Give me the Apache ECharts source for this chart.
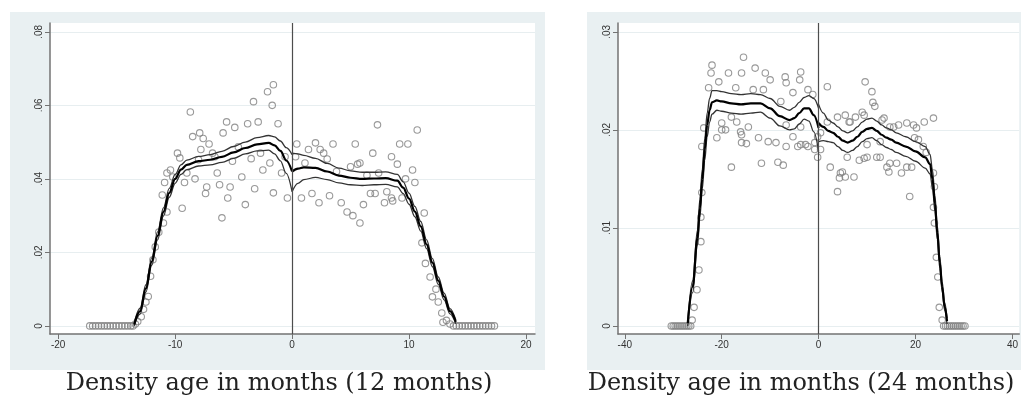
<!DOCTYPE html>
<html>
<head>
<meta charset="utf-8">
<script src="https://cdn.jsdelivr.net/npm/echarts@6/dist/echarts.min.js"></script>
<style>
  body { margin: 0; background: #fff; }
  .region { position: absolute; top: 12px; height: 358px; background: #e9f0f2; }
  #chart { position: absolute; left: 0; top: 0; width: 1021px; height: 404px; }
</style>
</head>
<body>
<div class="region" style="left:10px;width:535px"></div>
<div class="region" style="left:587px;width:440px"></div>
<div id="chart"></div>
<script>
  // ---- 12 months panel ----
  var xTicks12 = [-20, -10, 0, 10, 20];
  var yTicks12 = [0, 0.02, 0.04, 0.06, 0.08];
  var zeros12 = [-17.3, -17.05, -16.8, -16.55, -16.3, -16.05, -15.8, -15.55, -15.3, -15.05, -14.8, -14.55, -14.3, -14.05, -13.8, -13.6,
    13.8, 14.05, 14.3, 14.55, 14.8, 15.05, 15.3, 15.55, 15.8, 16.05, 16.3, 16.55, 16.8, 17.05, 17.3];
  var bins12 = [
    [-13.4, 0.0005], [-13.2, 0.0012], [-12.9, 0.0025], [-12.7, 0.0045], [-12.5, 0.0065], [-12.3, 0.0080],
    [-12.1, 0.0135], [-11.9, 0.0180], [-11.7, 0.0215], [-11.4, 0.0255], [-11.0, 0.0280], [-10.7, 0.0310],
    [-11.1, 0.0356], [-10.9, 0.0390], [-10.7, 0.0416], [-10.4, 0.0424], [-10.2, 0.0405], [-9.8, 0.0470],
    [-9.6, 0.0457], [-9.4, 0.0320], [-9.2, 0.0390], [-9.0, 0.0416], [-8.7, 0.0582], [-8.5, 0.0515],
    [-8.3, 0.0400], [-8.0, 0.0452], [-7.9, 0.0525], [-7.8, 0.0480], [-7.6, 0.0510], [-7.4, 0.0360],
    [-7.3, 0.0378], [-7.1, 0.0495], [-6.8, 0.0470], [-6.6, 0.0460], [-6.4, 0.0416], [-6.2, 0.0384],
    [-6.0, 0.0294], [-5.9, 0.0525], [-5.6, 0.0555], [-5.5, 0.0348], [-5.3, 0.0378], [-5.1, 0.0448],
    [-4.9, 0.0540], [-4.6, 0.0487], [-4.3, 0.0405], [-4.0, 0.0330], [-3.8, 0.0550], [-3.5, 0.0455],
    [-3.3, 0.0610], [-3.2, 0.0373], [-2.9, 0.0555], [-2.7, 0.0470], [-2.5, 0.0424], [-2.1, 0.0637],
    [-1.9, 0.0443], [-1.7, 0.0600], [-1.6, 0.0656], [-1.6, 0.0362], [-1.2, 0.0550], [-0.9, 0.0416],
    [-0.6, 0.0460], [-0.4, 0.0348],
    [0.3, 0.0460], [0.4, 0.0495], [0.8, 0.0348], [1.1, 0.0443], [1.4, 0.0480], [1.7, 0.0360],
    [2.0, 0.0498], [2.3, 0.0335], [2.4, 0.0480], [2.7, 0.0470], [3.0, 0.0454], [3.2, 0.0354],
    [3.5, 0.0495], [3.8, 0.0420], [4.2, 0.0335], [4.7, 0.0310], [5.0, 0.0433], [5.2, 0.0300],
    [5.4, 0.0495], [5.6, 0.0440], [5.8, 0.0443], [5.8, 0.0280], [6.1, 0.0330], [6.4, 0.0410],
    [6.7, 0.0360], [6.9, 0.0470], [7.1, 0.0360], [7.3, 0.0547], [7.4, 0.0416], [7.9, 0.0335],
    [8.1, 0.0365], [8.5, 0.0460], [8.5, 0.0348], [8.6, 0.0340], [9.0, 0.0440], [9.2, 0.0495],
    [9.4, 0.0348], [9.7, 0.0400], [9.9, 0.0495], [10.3, 0.0424], [10.5, 0.0390], [10.7, 0.0533],
    [11.1, 0.0226], [11.3, 0.0307], [11.4, 0.0170], [11.8, 0.0133], [12.0, 0.0079], [12.3, 0.0100],
    [12.5, 0.0065], [12.8, 0.0035], [12.9, 0.0010], [13.2, 0.0015], [13.5, 0.0005]
  ];
  // rows: [x, lower, fit, upper]
  var fitLeft12 = [
    [-13.5, 0.0000, 0.0004, 0.0008], [-13, 0.0032, 0.0040, 0.0048], [-12.5, 0.0092, 0.0102, 0.0112],
    [-12, 0.0165, 0.0175, 0.0185], [-11.5, 0.0234, 0.0245, 0.0256], [-11, 0.0299, 0.0310, 0.0321],
    [-10.5, 0.0350, 0.0362, 0.0374], [-10, 0.0388, 0.0400, 0.0412], [-9.5, 0.0412, 0.0425, 0.0438],
    [-9, 0.0425, 0.0438, 0.0451], [-8, 0.0435, 0.0448, 0.0461], [-7, 0.0438, 0.0452, 0.0466],
    [-6, 0.0445, 0.0460, 0.0475], [-5, 0.0456, 0.0472, 0.0488], [-4, 0.0468, 0.0484, 0.0500],
    [-3, 0.0476, 0.0494, 0.0512], [-2, 0.0478, 0.0498, 0.0518], [-1.5, 0.0468, 0.0491, 0.0514],
    [-1, 0.0449, 0.0476, 0.0503], [-0.5, 0.0415, 0.0450, 0.0485], [0, 0.0365, 0.0420, 0.0466]
  ];
  var fitRight12 = [
    [0, 0.0365, 0.0420, 0.0470], [0.5, 0.0388, 0.0428, 0.0468], [1, 0.0398, 0.0431, 0.0464],
    [2, 0.0404, 0.0430, 0.0456], [3, 0.0398, 0.0420, 0.0442], [4, 0.0389, 0.0409, 0.0429],
    [5, 0.0384, 0.0403, 0.0422], [6, 0.0382, 0.0400, 0.0418], [7, 0.0384, 0.0401, 0.0418],
    [8, 0.0385, 0.0402, 0.0419], [9, 0.0378, 0.0395, 0.0412], [9.5, 0.0360, 0.0376, 0.0392],
    [10, 0.0331, 0.0346, 0.0361], [10.5, 0.0297, 0.0311, 0.0325], [11, 0.0258, 0.0271, 0.0284],
    [11.5, 0.0210, 0.0222, 0.0234], [12, 0.0161, 0.0172, 0.0183], [12.5, 0.0113, 0.0123, 0.0133],
    [13, 0.0071, 0.0080, 0.0089], [13.5, 0.0033, 0.0040, 0.0047], [14, 0.0006, 0.0011, 0.0016]
  ];

  // ---- 24 months panel ----
  var xTicks24 = [-40, -20, 0, 20, 40];
  var yTicks24 = [0, 0.01, 0.02, 0.03];
  var zeros24 = [-30.4, -30, -29.6, -29.2, -28.8, -28.4, -28, -27.6, -27.2, -26.8, -26.4,
    25.8, 26.2, 26.6, 27, 27.4, 27.8, 28.2, 28.6, 29, 29.4, 29.8, 30.2];
  var bins24 = [
    [-26.1, 0.0006], [-25.7, 0.0019], [-25.1, 0.0037], [-24.7, 0.0057], [-24.3, 0.0086], [-24.3, 0.0111],
    [-24.1, 0.0136], [-24.1, 0.0183], [-23.7, 0.0202],
    [-22.7, 0.0243], [-22.2, 0.0258], [-22.0, 0.0266], [-21.0, 0.0192], [-20.6, 0.0249], [-20.0, 0.0207],
    [-20.0, 0.0200], [-19.2, 0.0200], [-18.6, 0.0258], [-18.0, 0.0213], [-18.0, 0.0162], [-17.1, 0.0243],
    [-16.9, 0.0208], [-16.1, 0.0198], [-15.9, 0.0258], [-15.9, 0.0195], [-15.9, 0.0187], [-15.5, 0.0274],
    [-14.9, 0.0186], [-14.5, 0.0203], [-13.5, 0.0241], [-13.1, 0.0263], [-12.4, 0.0192], [-11.8, 0.0166],
    [-11.4, 0.0241], [-11.0, 0.0258], [-10.4, 0.0188], [-10.0, 0.0251], [-8.8, 0.0187], [-8.4, 0.0167],
    [-7.8, 0.0229], [-7.3, 0.0164], [-6.9, 0.0254], [-6.7, 0.0248], [-6.7, 0.0205], [-6.7, 0.0183],
    [-5.3, 0.0238], [-5.3, 0.0193], [-4.3, 0.0183], [-3.9, 0.0251], [-3.7, 0.0259], [-3.7, 0.0203],
    [-3.7, 0.0185], [-2.7, 0.0185], [-2.2, 0.0241], [-2.2, 0.0183], [-1.2, 0.0236], [-0.8, 0.0180],
    [-0.8, 0.0187], [-0.2, 0.0193], [-0.2, 0.0172],
    [0.4, 0.0197], [0.4, 0.0180], [1.8, 0.0244], [1.8, 0.0208], [2.4, 0.0162], [3.9, 0.0213],
    [3.9, 0.0137], [4.3, 0.0151], [4.5, 0.0156], [4.9, 0.0157], [5.5, 0.0215], [5.5, 0.0152],
    [5.9, 0.0172], [6.3, 0.0208], [6.5, 0.0208], [7.3, 0.0152], [7.6, 0.0213], [8.4, 0.0169],
    [9.0, 0.0218], [9.4, 0.0215], [9.4, 0.0171], [9.6, 0.0249], [10.0, 0.0172], [10.0, 0.0185],
    [11.0, 0.0239], [11.2, 0.0228], [11.6, 0.0224], [12.0, 0.0172], [12.7, 0.0172], [12.7, 0.0188],
    [13.1, 0.0210], [13.5, 0.0212], [14.1, 0.0162], [14.5, 0.0157], [14.7, 0.0203], [14.7, 0.0166],
    [15.5, 0.0203], [16.1, 0.0166], [16.5, 0.0205], [17.1, 0.0156], [18.2, 0.0207], [18.2, 0.0162],
    [18.8, 0.0132], [19.2, 0.0162], [19.6, 0.0205], [19.8, 0.0192], [20.2, 0.0202], [20.6, 0.0190],
    [21.6, 0.0183], [21.8, 0.0208], [22.2, 0.0177], [23.7, 0.0212], [23.7, 0.0156], [23.9, 0.0142],
    [23.7, 0.0121], [23.9, 0.0105], [24.3, 0.0070], [24.6, 0.0050], [24.9, 0.0019], [25.5, 0.0006]
  ];
  var fitLeft24 = [
    [-27, 0.0000, 0.0003, 0.0006], [-26, 0.0034, 0.0040, 0.0046], [-25, 0.0082, 0.0090, 0.0098],
    [-24.5, 0.0111, 0.0120, 0.0129], [-24, 0.0140, 0.0150, 0.0160], [-23.5, 0.0169, 0.0180, 0.0191],
    [-23, 0.0193, 0.0205, 0.0217], [-22.5, 0.0208, 0.0220, 0.0232], [-22, 0.0216, 0.0228, 0.0240],
    [-21, 0.0220, 0.0230, 0.0240], [-20, 0.0219, 0.0229, 0.0239], [-18, 0.0217, 0.0227, 0.0237],
    [-16, 0.0216, 0.0226, 0.0236], [-14, 0.0217, 0.0227, 0.0237], [-12, 0.0218, 0.0227, 0.0236],
    [-10, 0.0212, 0.0222, 0.0232], [-8, 0.0204, 0.0214, 0.0224], [-6, 0.0200, 0.0210, 0.0220],
    [-5, 0.0201, 0.0212, 0.0223], [-4, 0.0206, 0.0217, 0.0228], [-3, 0.0211, 0.0222, 0.0233],
    [-2, 0.0209, 0.0222, 0.0235], [-1, 0.0198, 0.0215, 0.0232], [0, 0.0178, 0.0202, 0.0222]
  ];
  var fitRight24 = [
    [0, 0.0188, 0.0207, 0.0226], [1, 0.0189, 0.0203, 0.0217], [2, 0.0188, 0.0199, 0.0210],
    [3, 0.0187, 0.0197, 0.0207], [4, 0.0183, 0.0193, 0.0203], [5, 0.0179, 0.0189, 0.0199],
    [6, 0.0177, 0.0187, 0.0197], [7, 0.0179, 0.0189, 0.0199], [8, 0.0183, 0.0193, 0.0203],
    [9, 0.0188, 0.0198, 0.0208], [10, 0.0191, 0.0201, 0.0211], [11, 0.0192, 0.0202, 0.0212],
    [12, 0.0189, 0.0199, 0.0209], [13, 0.0185, 0.0195, 0.0205], [14, 0.0182, 0.0192, 0.0202],
    [15, 0.0180, 0.0190, 0.0200], [16, 0.0177, 0.0187, 0.0197], [18, 0.0173, 0.0183, 0.0193],
    [20, 0.0168, 0.0178, 0.0188], [22, 0.0161, 0.0172, 0.0183], [23, 0.0155, 0.0165, 0.0175],
    [23.5, 0.0141, 0.0150, 0.0159], [24, 0.0117, 0.0125, 0.0133], [24.5, 0.0088, 0.0095, 0.0102],
    [25, 0.0059, 0.0065, 0.0071], [25.5, 0.0035, 0.0040, 0.0045], [26, 0.0016, 0.0020, 0.0024],
    [26.5, 0.0002, 0.0005, 0.0008]
  ];

  var axisColor = '#737373';
  var labelStyle = {color: '#333', fontSize: 10, fontFamily: 'Liberation Sans'};
  var titleStyle = {fontFamily: 'DejaVu Serif', fontWeight: 'normal', fontSize: 24, color: '#222'};

  function stataNum(v) {
    return v === 0 ? '0' : String(v).replace(/^0\./, '.').replace(/^-0\./, '-.');
  }

  function xAxisFor(idx, min, max, ticks) {
    return {
      gridIndex: idx, type: 'value', min: min, max: max,
      axisLine: {show: true, onZero: false, lineStyle: {color: axisColor, width: 1.5}},
      axisTick: {show: true, length: 5, customValues: ticks, lineStyle: {color: axisColor}},
      axisLabel: Object.assign({customValues: ticks, margin: 6}, labelStyle),
      splitLine: {show: false}
    };
  }

  function yAxisFor(idx, min, max, ticks) {
    return {
      gridIndex: idx, type: 'value', min: min, max: max,
      axisLine: {show: true, onZero: false, lineStyle: {color: axisColor, width: 1.5}},
      axisTick: {show: true, length: 5, customValues: ticks, lineStyle: {color: axisColor}},
      axisLabel: Object.assign({customValues: ticks, rotate: 90, margin: 6, formatter: stataNum}, labelStyle),
      splitLine: {show: true, lineStyle: {color: '#e7eef0', width: 1}}
    };
  }

  function panelSeries(idx, bins, zeros, fitL, fitR) {
    var pts = bins.concat(zeros.map(function (x) { return [x, 0]; }));
    var out = [{
      type: 'scatter', xAxisIndex: idx, yAxisIndex: idx, data: pts, z: 2,
      symbol: 'circle', symbolSize: 6.5,
      itemStyle: {color: 'rgba(0,0,0,0)', borderColor: '#808080', borderWidth: 1.1},
      silent: true
    }];
    [fitL, fitR].forEach(function (rows, side) {
      [1, 3, 2].forEach(function (col) {
        var s = {
          type: 'line', xAxisIndex: idx, yAxisIndex: idx, z: col === 2 ? 4 : 3,
          data: rows.map(function (r) { return [r[0], r[col]]; }),
          showSymbol: false, smooth: 0.35, smoothMonotone: 'x', silent: true,
          lineStyle: col === 2 ? {color: '#000', width: 2.2} : {color: '#333', width: 1.3}
        };
        if (side === 0 && col === 2) {
          s.markLine = {
            silent: true, symbol: 'none', label: {show: false},
            lineStyle: {color: '#4d4d4d', width: 1.2, type: 'solid'},
            data: [{xAxis: 0}]
          };
        }
        out.push(s);
      });
    });
    return out;
  }

  var chart = echarts.init(document.getElementById('chart'));
  chart.setOption({
    animation: false,
    backgroundColor: 'transparent',
    title: [
      {text: 'Density age in months (12 months)', left: 274, top: 367, textAlign: 'center', textStyle: titleStyle},
      {text: 'Density age in months (24 months)', left: 796, top: 367, textAlign: 'center', textStyle: titleStyle}
    ],
    grid: [
      {left: 50, top: 23, width: 485, height: 311, show: true, backgroundColor: '#fff', borderWidth: 0},
      {left: 618, top: 23, width: 406, height: 311, show: true, backgroundColor: '#fff', borderWidth: 0}
    ],
    xAxis: [
      xAxisFor(0, -20.7, 20.77, xTicks12),
      xAxisFor(1, -41.4, 41.4, xTicks24)
    ],
    yAxis: [
      yAxisFor(0, -0.0022, 0.0824, yTicks12),
      yAxisFor(1, -0.00082, 0.0309, yTicks24)
    ],
    series: panelSeries(0, bins12, zeros12, fitLeft12, fitRight12)
      .concat(panelSeries(1, bins24, zeros24, fitLeft24, fitRight24))
  });
</script>
</body>
</html>
